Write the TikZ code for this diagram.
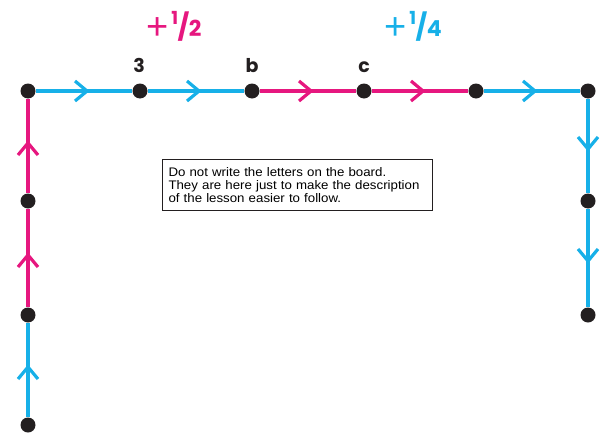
\documentclass[tikz,border=0pt]{standalone}
\usepackage{fontspec}
\setmainfont{Liberation Sans}
\newfontfamily\geofont{Poppins}
\newfontfamily\boxfont[FakeStretch=1.07]{Liberation Sans}
\usetikzlibrary{decorations.markings}
\definecolor{pnk}{HTML}{E6177F}
\definecolor{blu}{HTML}{17B0E8}
\definecolor{dotc}{HTML}{231F20}
\newcommand{\fracsym}[1]{\raisebox{-3.5pt}{\rmfamily\fontsize{38}{38}\selectfont +}\kern3pt\raisebox{11.5pt}{\bfseries\fontsize{18}{18}\selectfont 1}\kern-0.5pt{\bfseries\fontsize{26}{26}\selectfont /}\kern-0.5pt{\fontseries{sb}\bfseries\fontsize{22}{22}\selectfont #1}}
\begin{document}
\begin{tikzpicture}[x=1pt,y=-1pt,
  dotn/.style={circle,fill=dotc,inner sep=0pt,minimum size=15pt},
  seg/.style={line width=3.2pt,draw=#1,
    postaction={decorate,decoration={markings,
      mark=at position 0.5 with {\draw[#1,line width=3.2pt,line cap=butt,line join=miter]
        (-9pt,-10pt)--(3pt,0pt)--(-9pt,10pt);}}}},
  lbl/.style={font=\geofont\bfseries\fontsize{19}{19}\selectfont,text=dotc,anchor=base,inner sep=0pt},
  frac/.style={font=\geofont,text=#1,anchor=base west,inner sep=0pt}]
\useasboundingbox (0,0) rectangle (600,434);
% dots
\node[dotn] (t1) at (28,91) {};
\node[dotn] (t2) at (140,91) {};
\node[dotn] (t3) at (252,91) {};
\node[dotn] (t4) at (364,91) {};
\node[dotn] (t5) at (476,91) {};
\node[dotn] (t6) at (588,91) {};
\node[dotn] (l2) at (28,201) {};
\node[dotn] (l3) at (28,315) {};
\node[dotn] (l4) at (28,425) {};
\node[dotn] (r2) at (588,201) {};
\node[dotn] (r3) at (588,315) {};
% connectors
\draw[seg=blu] (t1) -- (t2);
\draw[seg=blu] (t2) -- (t3);
\draw[seg=pnk] (t3) -- (t4);
\draw[seg=pnk] (t4) -- (t5);
\draw[seg=blu] (t5) -- (t6);
\draw[seg=blu] (l4) -- (l3);
\draw[seg=pnk] (l3) -- (l2);
\draw[seg=pnk] (l2) -- (t1);
\draw[seg=blu] (t6) -- (r2);
\draw[seg=blu] (r2) -- (r3);
% labels
\node[lbl] (a3) at (139,72) {3};
\node[lbl] (ab) at (252,72) {b};
\node[lbl] (ac) at (364,72) {c};
\node[frac=pnk] (f1) at (146,36) {\fracsym{2}};
\node[frac=blu] (f2) at (384,36) {\fracsym{4}};
% note box
\node[draw=dotc,line width=1pt,align=left,inner xsep=6pt,inner ysep=4pt,text width=258pt,
  font=\boxfont\fontsize{12.4}{12.6}\selectfont,anchor=north west,
  minimum height=51pt] (box) at (162,159)
  {Do not write the letters on the board.\\They are here just to make the description\\of the lesson easier to follow.};
\end{tikzpicture}
\end{document}
